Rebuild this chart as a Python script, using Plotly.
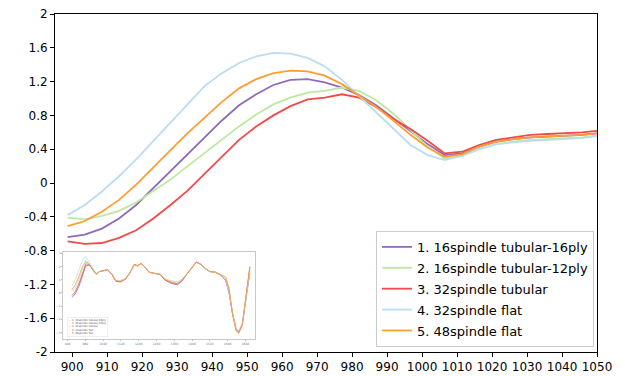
import plotly.graph_objects as go

# ---------------- main chart data ----------------
x_main = [898.7, 903.6, 908.5, 913.4, 918.3, 923.2, 928.1, 933.0, 937.9, 942.8,
          947.7, 952.6, 957.5, 962.4, 967.3, 972.2, 977.1, 982.0, 986.9, 991.8,
          996.7, 1001.6, 1006.5, 1011.4, 1016.3, 1021.2, 1026.1, 1031.0, 1035.9,
          1040.8, 1045.7, 1050.6]

s1_tub16 = [-0.64, -0.61, -0.54, -0.42, -0.26, -0.06, 0.15, 0.35, 0.55, 0.74,
            0.92, 1.05, 1.16, 1.22, 1.23, 1.19, 1.13, 1.04, 0.92, 0.77,
            0.62, 0.46, 0.33, 0.35, 0.43, 0.49, 0.52, 0.54, 0.55, 0.56, 0.57, 0.59]
s2_tub12 = [-0.41, -0.43, -0.39, -0.33, -0.23, -0.10, 0.04, 0.20, 0.36, 0.52,
            0.67, 0.81, 0.93, 1.01, 1.07, 1.09, 1.13, 1.09, 0.98, 0.82,
            0.62, 0.43, 0.29, 0.32, 0.40, 0.46, 0.49, 0.51, 0.52, 0.53, 0.54, 0.56]
s3_tub32 = [-0.69, -0.72, -0.71, -0.65, -0.56, -0.42, -0.26, -0.09, 0.11, 0.31,
            0.51, 0.67, 0.80, 0.91, 0.99, 1.01, 1.05, 1.01, 0.90, 0.76,
            0.64, 0.50, 0.35, 0.37, 0.45, 0.51, 0.54, 0.57, 0.58, 0.59, 0.60, 0.62]
s4_flat32 = [-0.38, -0.26, -0.10, 0.08, 0.28, 0.50, 0.72, 0.94, 1.15, 1.30,
             1.42, 1.50, 1.54, 1.53, 1.48, 1.38, 1.22, 1.03, 0.84, 0.64,
             0.45, 0.33, 0.27, 0.32, 0.40, 0.46, 0.48, 0.50, 0.51, 0.52, 0.53, 0.56]
s5_flat48 = [-0.51, -0.45, -0.34, -0.20, -0.02, 0.19, 0.39, 0.59, 0.78, 0.96,
             1.12, 1.23, 1.30, 1.33, 1.32, 1.27, 1.17, 1.03, 0.90, 0.74,
             0.57, 0.42, 0.31, 0.34, 0.43, 0.49, 0.52, 0.54, 0.55, 0.56, 0.57, 0.59]

names = ["1. 16spindle tubular-16ply", "2. 16spindle tubular-12ply",
         "3. 32spindle tubular", "4. 32spindle flat", "5. 48spindle flat"]
colors = ["#8f6bba", "#bde8a0", "#f24a4a", "#b8def0", "#ff9d33"]

x_ticks = [900, 910, 920, 930, 940, 950, 960, 970, 980, 990, 1000, 1010, 1020,
           1030, 1040, 1050]
y_ticks = [-2, -1.6, -1.2, -0.8, -0.4, 0, 0.4, 0.8, 1.2, 1.6, 2]
y_tick_text = ["-2", "-1.6", "-1.2", "-0.8", "-0.4", "0", "0.4", "0.8", "1.2", "1.6", "2"]

# ---------------- inset (thumbnail) data ----------------
ins_x = [900, 915, 931, 947, 962, 978, 993, 1009, 1024, 1040, 1060, 1079, 1097, 1117,
         1141, 1159, 1180, 1195, 1211, 1226, 1246, 1273, 1296, 1319, 1350, 1374, 1392,
         1420, 1444, 1459, 1479, 1498, 1521, 1545, 1568, 1591, 1607, 1622, 1638, 1650,
         1666, 1681, 1700]
ins_s1 = [-0.2, 0.1, 0.7, 1.55, 2.2, 2.15, 1.75, 1.42, 1.62, 1.67, 1.75, 1.42, 0.88, 0.82,
          1.05, 1.5, 2.15, 2.05, 2.25, 2.0, 1.57, 1.47, 1.4, 0.95, 0.7, 0.62, 0.85,
          1.5, 2.05, 2.35, 2.18, 1.85, 1.6, 1.55, 1.35, 0.95, -0.05, -1.55, -2.7, -2.9,
          -2.35, -0.5, 1.5]
ins_s2 = [0.1, 0.4, 1.0, 1.8, 2.3, 2.2, 1.75, 1.42, 1.6, 1.65, 1.72, 1.42, 0.95, 0.9,
          1.08, 1.5, 2.1, 2.02, 2.2, 2.0, 1.57, 1.47, 1.45, 1.05, 0.88, 0.82, 0.98,
          1.5, 2.0, 2.3, 2.15, 1.85, 1.6, 1.57, 1.4, 1.2, 0.3, -1.6, -2.85, -3.05,
          -2.4, -0.4, 2.0]
ins_s3 = [-0.35, -0.05, 0.5, 1.35, 2.05, 2.1, 1.75, 1.42, 1.62, 1.67, 1.75, 1.42, 0.9, 0.85,
          1.05, 1.5, 2.15, 2.05, 2.22, 2.0, 1.57, 1.47, 1.42, 1.0, 0.75, 0.68, 0.88,
          1.5, 2.02, 2.33, 2.18, 1.86, 1.62, 1.56, 1.36, 1.0, 0.0, -1.6, -2.8, -3.0,
          -2.4, -0.45, 1.95]
ins_s4 = [0.55, 1.0, 1.7, 2.5, 2.78, 2.35, 1.85, 1.45, 1.62, 1.67, 1.72, 1.40, 0.95, 0.92,
          1.1, 1.5, 2.1, 2.05, 2.2, 2.0, 1.57, 1.47, 1.45, 1.05, 0.9, 0.85, 1.0,
          1.5, 2.0, 2.3, 2.15, 1.85, 1.6, 1.55, 1.35, 1.0, 0.0, -1.5, -2.7, -2.85,
          -2.3, -0.5, 1.6]
ins_s5 = [0.25, 0.62, 1.25, 2.0, 2.42, 2.17, 1.75, 1.42, 1.62, 1.67, 1.75, 1.42, 0.92, 0.87,
          1.07, 1.5, 2.12, 2.07, 2.22, 2.0, 1.57, 1.47, 1.42, 1.0, 0.8, 0.72, 0.92,
          1.5, 2.0, 2.32, 2.17, 1.87, 1.62, 1.57, 1.37, 1.2, 0.3, -1.6, -2.85, -3.05,
          -2.4, -0.4, 2.0]
ins_x_ticks = [880, 960, 1040, 1120, 1200, 1280, 1360, 1440, 1520, 1600, 1680]
ins_y_ticks = [-3, -2, -1, 0, 1, 2, 3]

FONT = "DejaVu Sans, Liberation Sans, sans-serif"

fig = go.Figure()
main_series = [s1_tub16, s2_tub12, s3_tub32, s4_flat32, s5_flat48]
for i, (nm, c, ys) in enumerate(zip(names, colors, main_series)):
    fig.add_trace(go.Scatter(x=x_main, y=ys, mode="lines", name=nm,
                             legendgroup="g%d" % i,
                             line=dict(color=c, width=1.8)))

ins_series = [ins_s1, ins_s2, ins_s3, ins_s4, ins_s5]
for nm, c, ys in zip(names, colors, ins_series):
    fig.add_trace(go.Scatter(x=ins_x, y=ys, mode="lines", name=nm, showlegend=False,
                             xaxis="x2", yaxis="y2", hoverinfo="skip",
                             line=dict(color=c, width=0.8)))

# tiny legend inside the thumbnail
mini_leg = "<br>".join("<span style='color:%s'>—</span> %s" % (c, n)
                       for c, n in zip(colors, names))
fig.add_annotation(xref="x2 domain", yref="y2 domain", x=0.02, y=0.03,
                   xanchor="left", yanchor="bottom", text=mini_leg, align="left",
                   showarrow=False, font=dict(size=2.6, color="#555", family=FONT),
                   bordercolor="#dddddd", borderwidth=0.5, borderpad=1)

fig.update_layout(
    width=625, height=376,
    autosize=False,
    margin=dict(l=55, r=28, t=14, b=24, pad=0, autoexpand=False),
    paper_bgcolor="white", plot_bgcolor="white",
    font=dict(family=FONT, size=12, color="black"),
    xaxis=dict(range=[895.1, 1050], tickvals=x_ticks, ticks="outside", ticklen=4,
               tickcolor="black", showline=True, linecolor="black", linewidth=1,
               mirror=True, showgrid=False, zeroline=False, automargin=False,
               tickfont=dict(size=12, family=FONT)),
    yaxis=dict(range=[-2, 2], tickvals=y_ticks, ticktext=y_tick_text, ticks="outside",
               ticklen=4, tickcolor="black", showline=True, linecolor="black",
               linewidth=1, mirror=True, showgrid=False, zeroline=False, automargin=False,
               tickfont=dict(size=12, family=FONT)),
    xaxis2=dict(domain=[0.015, 0.369], anchor="y2", range=[860, 1723],
                tickvals=ins_x_ticks, ticks="outside", ticklen=1, tickcolor="#bbb",
                showline=True, linecolor="#c8c8c8", linewidth=0.7, mirror=True,
                showgrid=False, zeroline=False, automargin=False,
                tickfont=dict(size=3, color="#777", family=FONT)),
    yaxis2=dict(domain=[0.038, 0.296], anchor="x2", range=[-3.5, 3.1],
                tickvals=ins_y_ticks, ticks="outside", ticklen=1, tickcolor="#bbb",
                showline=True, linecolor="#c8c8c8", linewidth=0.7, mirror=True,
                showgrid=False, zeroline=False, automargin=False,
                tickfont=dict(size=3, color="#777", family=FONT)),
    legend=dict(x=0.9945, y=0.015, xanchor="right", yanchor="bottom",
                bgcolor="rgba(255,255,255,0.85)", bordercolor="#cccccc", borderwidth=1,
                font=dict(size=13, family=FONT, color="black"),
                tracegroupgap=1, itemwidth=30),
    showlegend=True,
)

fig.write_html("out.html", config={"displayModeBar": False},
               post_script="document.body.style.margin='0';document.body.style.overflow='hidden';")
